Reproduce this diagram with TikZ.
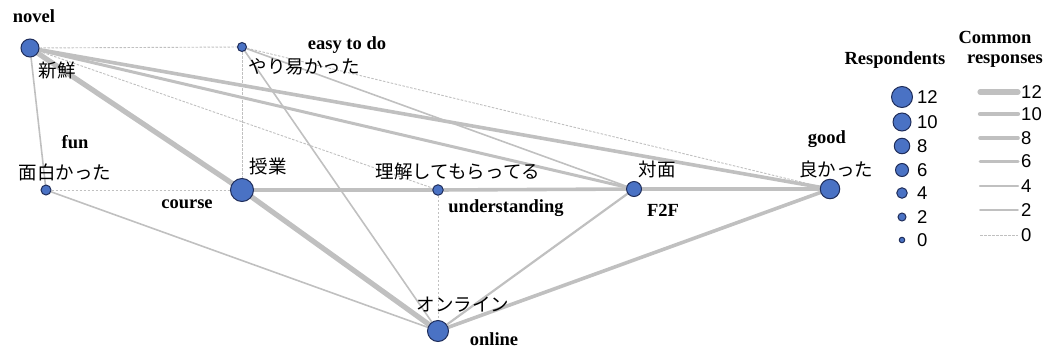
\documentclass[tikz,border=0pt]{standalone}
\usepackage{fontspec}
\setmainfont{Liberation Serif}
\newfontfamily\jpfont{Noto Sans CJK JP}
\newfontfamily\legfont{Liberation Sans}
\usetikzlibrary{backgrounds}

\definecolor{dotblue}{RGB}{74,114,196}
\definecolor{dotrim}{RGB}{31,45,90}
\definecolor{linkgray}{RGB}{192,192,192}

\begin{document}
\begin{tikzpicture}[x=1pt,y=-1pt,
  resp/.style={circle,draw=dotrim,fill=dotblue,line width=1pt,inner sep=0pt},
  eng/.style={font=\fontsize{18.5}{18.5}\selectfont\bfseries,inner sep=0pt},
  jap/.style={font=\fontsize{18.5}{18.5}\selectfont\jpfont,inner sep=0pt},
  val/.style={font=\fontsize{18.5}{18.5}\selectfont\legfont,inner sep=0pt,anchor=west},
  link0/.style={draw=linkgray,line width=0.9pt,dash pattern=on 2.5pt off 1.5pt},
  link2/.style={draw=linkgray,line width=1.6pt,line cap=round},
  link4/.style={draw=linkgray,line width=2.2pt,line cap=round},
  link6/.style={draw=linkgray,line width=3pt,line cap=round},
  link8/.style={draw=linkgray,line width=3.6pt,line cap=round},
  link10/.style={draw=linkgray,line width=4.3pt,line cap=round},
  link12/.style={draw=linkgray,line width=5.2pt,line cap=round}]

  \useasboundingbox (0,0) rectangle (1046,351);

  % Words (one circle each)

  \node [resp,minimum size=18pt] (n-nov)  at (30,48)   {};
  \node [resp,minimum size=9pt] (n-easy) at (242,47)  {};
  \node [resp,minimum size=10pt] (n-fun)  at (46,190)  {};
  \node [resp,minimum size=23pt] (n-crs)  at (242,190) {};
  \node [resp,minimum size=10.5pt] (n-und)  at (438,190) {};
  \node [resp,minimum size=15pt] (n-f2f)  at (634,189) {};
  \node [resp,minimum size=19.5pt] (n-good) at (830,189) {};
  \node [resp,minimum size=21pt] (n-onl)  at (438,331) {};

  % Labels: japanese word and english gloss

  \node [eng] (t-nov)  at (34,16)   {novel};
  \node [jap] (j-nov)  at (57,70)   {新鮮};
  \node [eng] (t-easy) at (347,45)  {easy to do};
  \node [jap] (j-easy) at (304,67)  {やり易かった};
  \node [eng] (t-fun)  at (75,142)  {fun};
  \node [jap] (j-fun)  at (65,172)  {面白かった};
  \node [jap] (j-crs)  at (268,166) {授業};
  \node [eng] (t-crs)  at (187,204) {course};
  \node [jap] (j-und)  at (458,171) {理解してもらってる};
  \node [eng] (t-und)  at (506,208) {understanding};
  \node [jap] (j-f2f)  at (657,169) {対面};
  \node [eng] (t-f2f)  at (663,210) {F2F};
  \node [eng] (t-good) at (827,139) {good};
  \node [jap] (j-good) at (836,169) {良かった};
  \node [jap] (j-onl)  at (463,305) {オンライン};
  \node [eng] (t-onl)  at (494,339) {online};

  % Legend: respondents

  \node [eng] (h-resp) at (895,60) {Respondents};
  \node [resp,minimum size=21pt]  (r12) at (902,97)  {};
  \node [resp,minimum size=18pt]  (r10) at (902,122) {};
  \node [resp,minimum size=15.5pt] (r8) at (902,146) {};
  \node [resp,minimum size=13pt] (r6) at (902,170) {};
  \node [resp,minimum size=10.5pt]  (r4)  at (902,193) {};
  \node [resp,minimum size=8pt] (r2)  at (902,217) {};
  \node [resp,minimum size=5.5pt]   (r0)  at (902,240) {};
  \node [val] (v-r12) at (917,97)  {12};
  \node [val] (v-r10) at (917,122) {10};
  \node [val] (v-r8)  at (917,146) {8};
  \node [val] (v-r6)  at (917,170) {6};
  \node [val] (v-r4)  at (917,193) {4};
  \node [val] (v-r2)  at (917,217) {2};
  \node [val] (v-r0)  at (917,240) {0};

  % Legend: common responses

  \node [eng] (h-com) at (995,37) {Common};
  \node [eng] (h-rsp) at (1005,61) {responses};
  \coordinate (s12) at (980,92);
  \coordinate (s10) at (980,114);
  \coordinate (s8)  at (980,138);
  \coordinate (s6)  at (980,161);
  \coordinate (s4)  at (980,186);
  \coordinate (s2)  at (980,210);
  \coordinate (s0)  at (980,235);
  \node [val] (v-c12) at (1021,92)  {12};
  \node [val] (v-c10) at (1021,114) {10};
  \node [val] (v-c8)  at (1021,138) {8};
  \node [val] (v-c6)  at (1021,161) {6};
  \node [val] (v-c4)  at (1021,186) {4};
  \node [val] (v-c2)  at (1021,210) {2};
  \node [val] (v-c0)  at (1021,235) {0};
  \draw [link12] (s12) -- ([xshift=-3pt]v-c12.west);
  \draw [link10] (s10) -- ([xshift=-3pt]v-c10.west);
  \draw [link8]  (s8)  -- ([xshift=-3pt]v-c8.west);
  \draw [link6]  (s6)  -- ([xshift=-3pt]v-c6.west);
  \draw [link4]  (s4)  -- ([xshift=-3pt]v-c4.west);
  \draw [link2]  (s2)  -- ([xshift=-3pt]v-c2.west);
  \draw [link0]  (s0)  -- ([xshift=-3pt]v-c0.west);

  % Co-occurrence links

  \begin{pgfonlayer}{background}
   \path
     (n-nov) edge [link0] (n-easy)
     (n-nov) edge [link2] (n-fun)
     (n-nov) edge [link12] (n-crs)
     (n-nov) edge [link0] (n-und)
     (n-nov) edge [link6] (n-f2f)
     (n-nov) edge [link8] (n-good)
     (n-easy) edge [link0] (n-crs)
     (n-easy) edge [link2] (n-onl)
     (n-easy) edge [link2] (n-f2f)
     (n-easy) edge [link0] (n-good)
     (n-fun) edge [link0] (n-crs)
     (n-fun) edge [link2] (n-onl)
     (n-crs) edge [link8] (n-und)
     (n-crs) edge [link12] (n-onl)
     (n-und) edge [link8] (n-f2f)
     (n-und) edge [link0] (n-onl)
     (n-f2f) edge [link8] (n-good)
     (n-f2f) edge [link4] (n-onl)
     (n-good) edge [link8] (n-onl);
  \end{pgfonlayer}
\end{tikzpicture}
\end{document}
